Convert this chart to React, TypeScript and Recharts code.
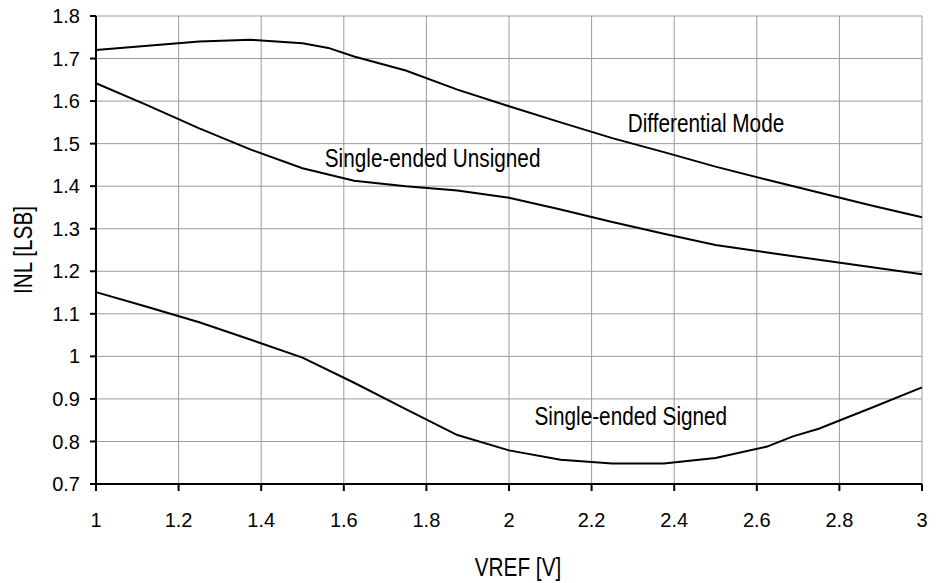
import { LineChart, Line, XAxis, YAxis, CartesianGrid, ReferenceDot } from 'recharts';

// VREF [V] samples for each curve
const diffVref = [1, 1.125, 1.25, 1.375, 1.5, 1.5625, 1.625, 1.75, 1.875, 2, 2.125, 2.25, 2.375, 2.5, 2.625, 2.75, 2.875, 3];
const diffInl = [1.72, 1.73, 1.74, 1.744, 1.736, 1.725, 1.705, 1.672, 1.627, 1.588, 1.55, 1.513, 1.48, 1.446, 1.415, 1.385, 1.355, 1.327];

const unsignedVref = [1, 1.125, 1.25, 1.375, 1.5, 1.625, 1.75, 1.875, 2, 2.125, 2.25, 2.375, 2.5, 2.625, 2.75, 2.875, 3];
const unsignedInl = [1.642, 1.59, 1.536, 1.486, 1.442, 1.413, 1.4, 1.39, 1.373, 1.345, 1.316, 1.288, 1.262, 1.244, 1.227, 1.21, 1.193];

const signedVref = [1, 1.125, 1.25, 1.375, 1.5, 1.625, 1.75, 1.875, 2, 2.125, 2.25, 2.375, 2.5, 2.625, 2.6875, 2.75, 2.875, 3];
const signedInl = [1.151, 1.116, 1.08, 1.039, 0.997, 0.938, 0.876, 0.815, 0.779, 0.757, 0.748, 0.748, 0.761, 0.788, 0.812, 0.83, 0.878, 0.927];

const xTicks = [1, 1.2, 1.4, 1.6, 1.8, 2, 2.2, 2.4, 2.6, 2.8, 3];
const yTicks = [0.7, 0.8, 0.9, 1, 1.1, 1.2, 1.3, 1.4, 1.5, 1.6, 1.7, 1.8];

// curve names and where they sit on the chart (vref, inl)
const curveLabels = ['Differential Mode', 'Single-ended Unsigned', 'Single-ended Signed'];
const labelVref = [2.477, 1.815, 2.295];
const labelInl = [1.548, 1.466, 0.858];

const toPoints = (xs: number[], ys: number[]) => xs.map((v, i) => ({ v, inl: ys[i] }));

const diffData = toPoints(diffVref, diffInl);
const unsignedData = toPoints(unsignedVref, unsignedInl);
const signedData = toPoints(signedVref, signedInl);

const FONT = '"Liberation Sans", Arial, sans-serif';

// the titles use a condensed helvetica; squeeze Liberation Sans to get the same look
function NarrowText({ x, y, text, rotate = 0 }: { x: number; y: number; text: string; rotate?: number }) {
  return (
    <text
      transform={`translate(${x} ${y}) rotate(${rotate}) scale(0.83 1)`}
      textAnchor="middle"
      dominantBaseline="central"
      fill="#000"
      fontSize={25}
      fontFamily={FONT}
    >
      {text}
    </text>
  );
}

export default function App() {
  const tickStyle = { fill: '#000', fontSize: 20, fontFamily: FONT };

  return (
    <div style={{ position: 'absolute', left: 0, top: 0, fontFamily: FONT, background: '#fff' }}>
      <LineChart width={939} height={583} margin={{ top: 16, right: 17, left: 0, bottom: 0 }}>
        <CartesianGrid stroke="#9b9b9b" strokeWidth={1} />
        <XAxis
          type="number"
          dataKey="v"
          domain={[1, 3]}
          ticks={xTicks}
          interval={0}
          height={99}
          stroke="#000"
          strokeWidth={2}
          tickSize={7}
          tickMargin={22}
          tick={tickStyle}
          tickFormatter={(v: number) => String(v)}
          label={{ content: () => <NarrowText x={518} y={567} text="VREF [V]" /> }}
        />
        <YAxis
          type="number"
          domain={[0.7, 1.8]}
          ticks={yTicks}
          interval={0}
          width={96}
          stroke="#000"
          strokeWidth={2}
          tickSize={6}
          tickMargin={10}
          tick={tickStyle}
          tickFormatter={(v: number) => String(v)}
          label={{ content: () => <NarrowText x={23} y={250} rotate={-90} text="INL [LSB]" /> }}
        />
        <Line data={diffData} dataKey="inl" type="linear" stroke="#000" strokeWidth={2} dot={false} activeDot={false} isAnimationActive={false} />
        <Line data={unsignedData} dataKey="inl" type="linear" stroke="#000" strokeWidth={2} dot={false} activeDot={false} isAnimationActive={false} />
        <Line data={signedData} dataKey="inl" type="linear" stroke="#000" strokeWidth={2} dot={false} activeDot={false} isAnimationActive={false} />
        {curveLabels.map((name, i) => (
          <ReferenceDot
            key={name}
            x={labelVref[i]}
            y={labelInl[i]}
            r={0}
            shape={(p: any) => <NarrowText x={p.cx} y={p.cy} text={name} />}
          />
        ))}
      </LineChart>
    </div>
  );
}
